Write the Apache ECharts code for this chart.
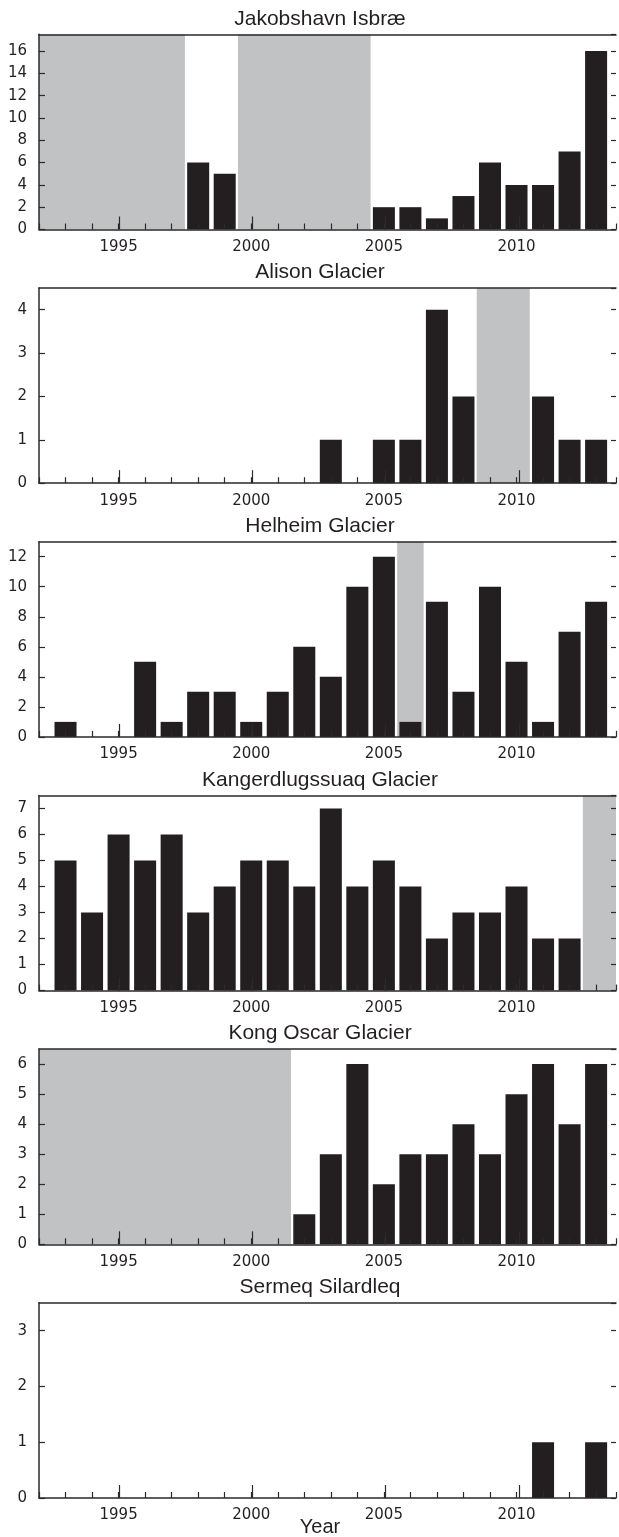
<!DOCTYPE html>
<html><head><meta charset="utf-8">
<script src="https://cdn.jsdelivr.net/npm/echarts@6/dist/echarts.min.js"></script>
<style>html,body{margin:0;padding:0;background:#fff}#c{width:619px;height:1537px}#err{position:absolute;left:0;top:0;font:12px monospace;color:red;white-space:pre-wrap;width:600px}</style>
</head><body><div id="c"></div><div id="err"></div>
<script>
var titles = ['Jakobshavn Isbræ', 'Alison Glacier', 'Helheim Glacier', 'Kangerdlugssuaq Glacier', 'Kong Oscar Glacier', 'Sermeq Silardleq'];
var years = [1993,1994,1995,1996,1997,1998,1999,2000,2001,2002,2003,2004,2005,2006,2007,2008,2009,2010,2011,2012,2013];
var jakobshavn = [0,0,0,0,0,6,5,0,0,0,0,0,2,2,1,3,6,4,4,7,16];
var alison     = [0,0,0,0,0,0,0,0,0,0,1,0,1,1,4,2,0,0,2,1,1];
var helheim    = [1,0,0,5,1,3,3,1,3,6,4,10,12,1,9,3,10,5,1,7,9];
var kangerd    = [5,3,6,5,6,3,4,5,5,4,7,4,5,4,2,3,3,4,2,2,0];
var kongOscar  = [0,0,0,0,0,0,0,0,0,1,3,6,2,3,3,4,3,5,6,4,6];
var sermeq     = [0,0,0,0,0,0,0,0,0,0,0,0,0,0,0,0,0,0,1,0,1];
var noDataSpans = [
  [[1992,1997.5],[1999.5,2004.5]],
  [[2008.5,2010.5]],
  [[2005.5,2006.5]],
  [[2012.5,2014]],
  [[1992,2001.5]],
  []
];
var yMax = [17.5, 4.5, 13, 7.5, 6.5, 3.5];
var yStep = [2, 1, 2, 1, 1, 1];
var majorYears = [1995, 2000, 2005, 2010];
var xMin = 1992, xMax = 2013.75;
var seriesValues = [jakobshavn, alison, helheim, kangerd, kongOscar, sermeq];

var DARK = '#231f20', GRAY = '#c1c2c4', LINE = '#2a2a2a';
var FONT = 'Liberation Sans, Arial, Helvetica, sans-serif';
var TICKFONT = 'DejaVu Sans, Liberation Sans, sans-serif';

try {
var chart = echarts.init(document.getElementById('c'), null, {renderer: 'canvas'});
var grids = [], xAxes = [], yAxes = [], series = [], graphics = [];
var panelStep = 253.7, panelTop0 = 34.3, panelH = 195.2;
for (var i = 0; i < 6; i++) {
  var pTop = panelTop0 + i * panelStep;
  var ga = 2 * i, gb = 2 * i + 1;
  grids.push({left: 39, right: 0, top: pTop, height: panelH, containLabel: false});
  grids.push({left: 39, right: 0, top: pTop, height: panelH, containLabel: false});
  xAxes.push({type: 'value', gridIndex: ga, min: xMin, max: xMax, interval: 1, position: 'bottom', z: 5,
    axisLine: {show: true, onZero: false, lineStyle: {color: LINE, width: 1.5}},
    axisTick: {show: true, inside: true, length: 6, lineStyle: {color: LINE, width: 1.2}},
    axisLabel: {show: true, margin: 10, color: DARK, fontSize: 15, fontFamily: TICKFONT, hideOverlap: false,
      formatter: function (v) { return majorYears.indexOf(v) >= 0 ? String(v) : ''; }},
    splitLine: {show: false}});
  xAxes.push({type: 'value', gridIndex: ga, min: xMin, max: xMax, position: 'top', z: 5,
    axisLine: {show: true, onZero: false, lineStyle: {color: LINE, width: 1.5}},
    axisTick: {show: false}, axisLabel: {show: false}, splitLine: {show: false}});
  xAxes.push({type: 'value', gridIndex: gb, min: xMin, max: xMax, position: 'bottom', z: 5,
    axisLine: {show: false},
    axisTick: {show: true, inside: true, length: 13, customValues: majorYears, lineStyle: {color: LINE, width: 1.2}},
    axisLabel: {show: false}, splitLine: {show: false}});
  yAxes.push({type: 'value', gridIndex: ga, min: 0, max: yMax[i], interval: yStep[i], position: 'left', z: 5,
    axisLine: {show: true, onZero: false, lineStyle: {color: LINE, width: 1.5}},
    axisTick: {show: true, inside: true, length: 6, lineStyle: {color: LINE, width: 1.2}},
    axisLabel: {show: true, margin: 12, color: DARK, fontSize: 15, fontFamily: TICKFONT, showMaxLabel: false},
    splitLine: {show: false}});
  yAxes.push({type: 'value', gridIndex: ga, min: 0, max: yMax[i], interval: yStep[i], position: 'right', z: 5,
    axisLine: {show: false},
    axisTick: {show: true, inside: true, length: 5, lineStyle: {color: LINE, width: 1.2}},
    axisLabel: {show: false}, splitLine: {show: false}});
  yAxes.push({type: 'value', gridIndex: gb, min: 0, max: yMax[i], show: false});

  var xa = 3 * i, ya = 3 * i;
  series.push({type: 'custom', xAxisIndex: xa, yAxisIndex: ya, z: 1, silent: true,
    data: noDataSpans[i],
    renderItem: function (params, api) {
      var cs = params.coordSys;
      var x0 = Math.max(api.coord([api.value(0), 0])[0], cs.x);
      var x1 = Math.min(api.coord([api.value(1), 0])[0], cs.x + cs.width);
      return {type: 'rect', shape: {x: x0, y: cs.y, width: x1 - x0, height: cs.height}, style: {fill: GRAY}};
    }});

  var d = [];
  for (var k = 0; k < years.length; k++) if (seriesValues[i][k] > 0) d.push([years[k], seriesValues[i][k]]);
  series.push({type: 'custom', xAxisIndex: xa, yAxisIndex: ya, z: 3, silent: true,
    data: d,
    renderItem: function (params, api) {
      var x = api.value(0), v = api.value(1);
      var p0 = api.coord([x - 0.415, v]);
      var p1 = api.coord([x + 0.415, 0]);
      return {type: 'rect', shape: {x: p0[0], y: p0[1], width: p1[0] - p0[0], height: p1[1] - p0[1]},
        style: {fill: DARK}};
    }});

  graphics.push({type: 'text', x: 320, y: pTop - 15.5, z: 10,
    style: {text: titles[i], font: '21px ' + FONT, fill: DARK, align: 'center', verticalAlign: 'middle'}});
}
graphics.push({type: 'text', x: 320, y: 1527, z: 10,
  style: {text: 'Year', font: '20px ' + FONT, fill: DARK, align: 'center', verticalAlign: 'middle'}});

chart.setOption({animation: false, backgroundColor: '#fff', grid: grids, xAxis: xAxes, yAxis: yAxes, series: series, graphic: graphics});
} catch (e) { document.getElementById('err').textContent = String(e && e.stack || e); }
</script></body></html>
